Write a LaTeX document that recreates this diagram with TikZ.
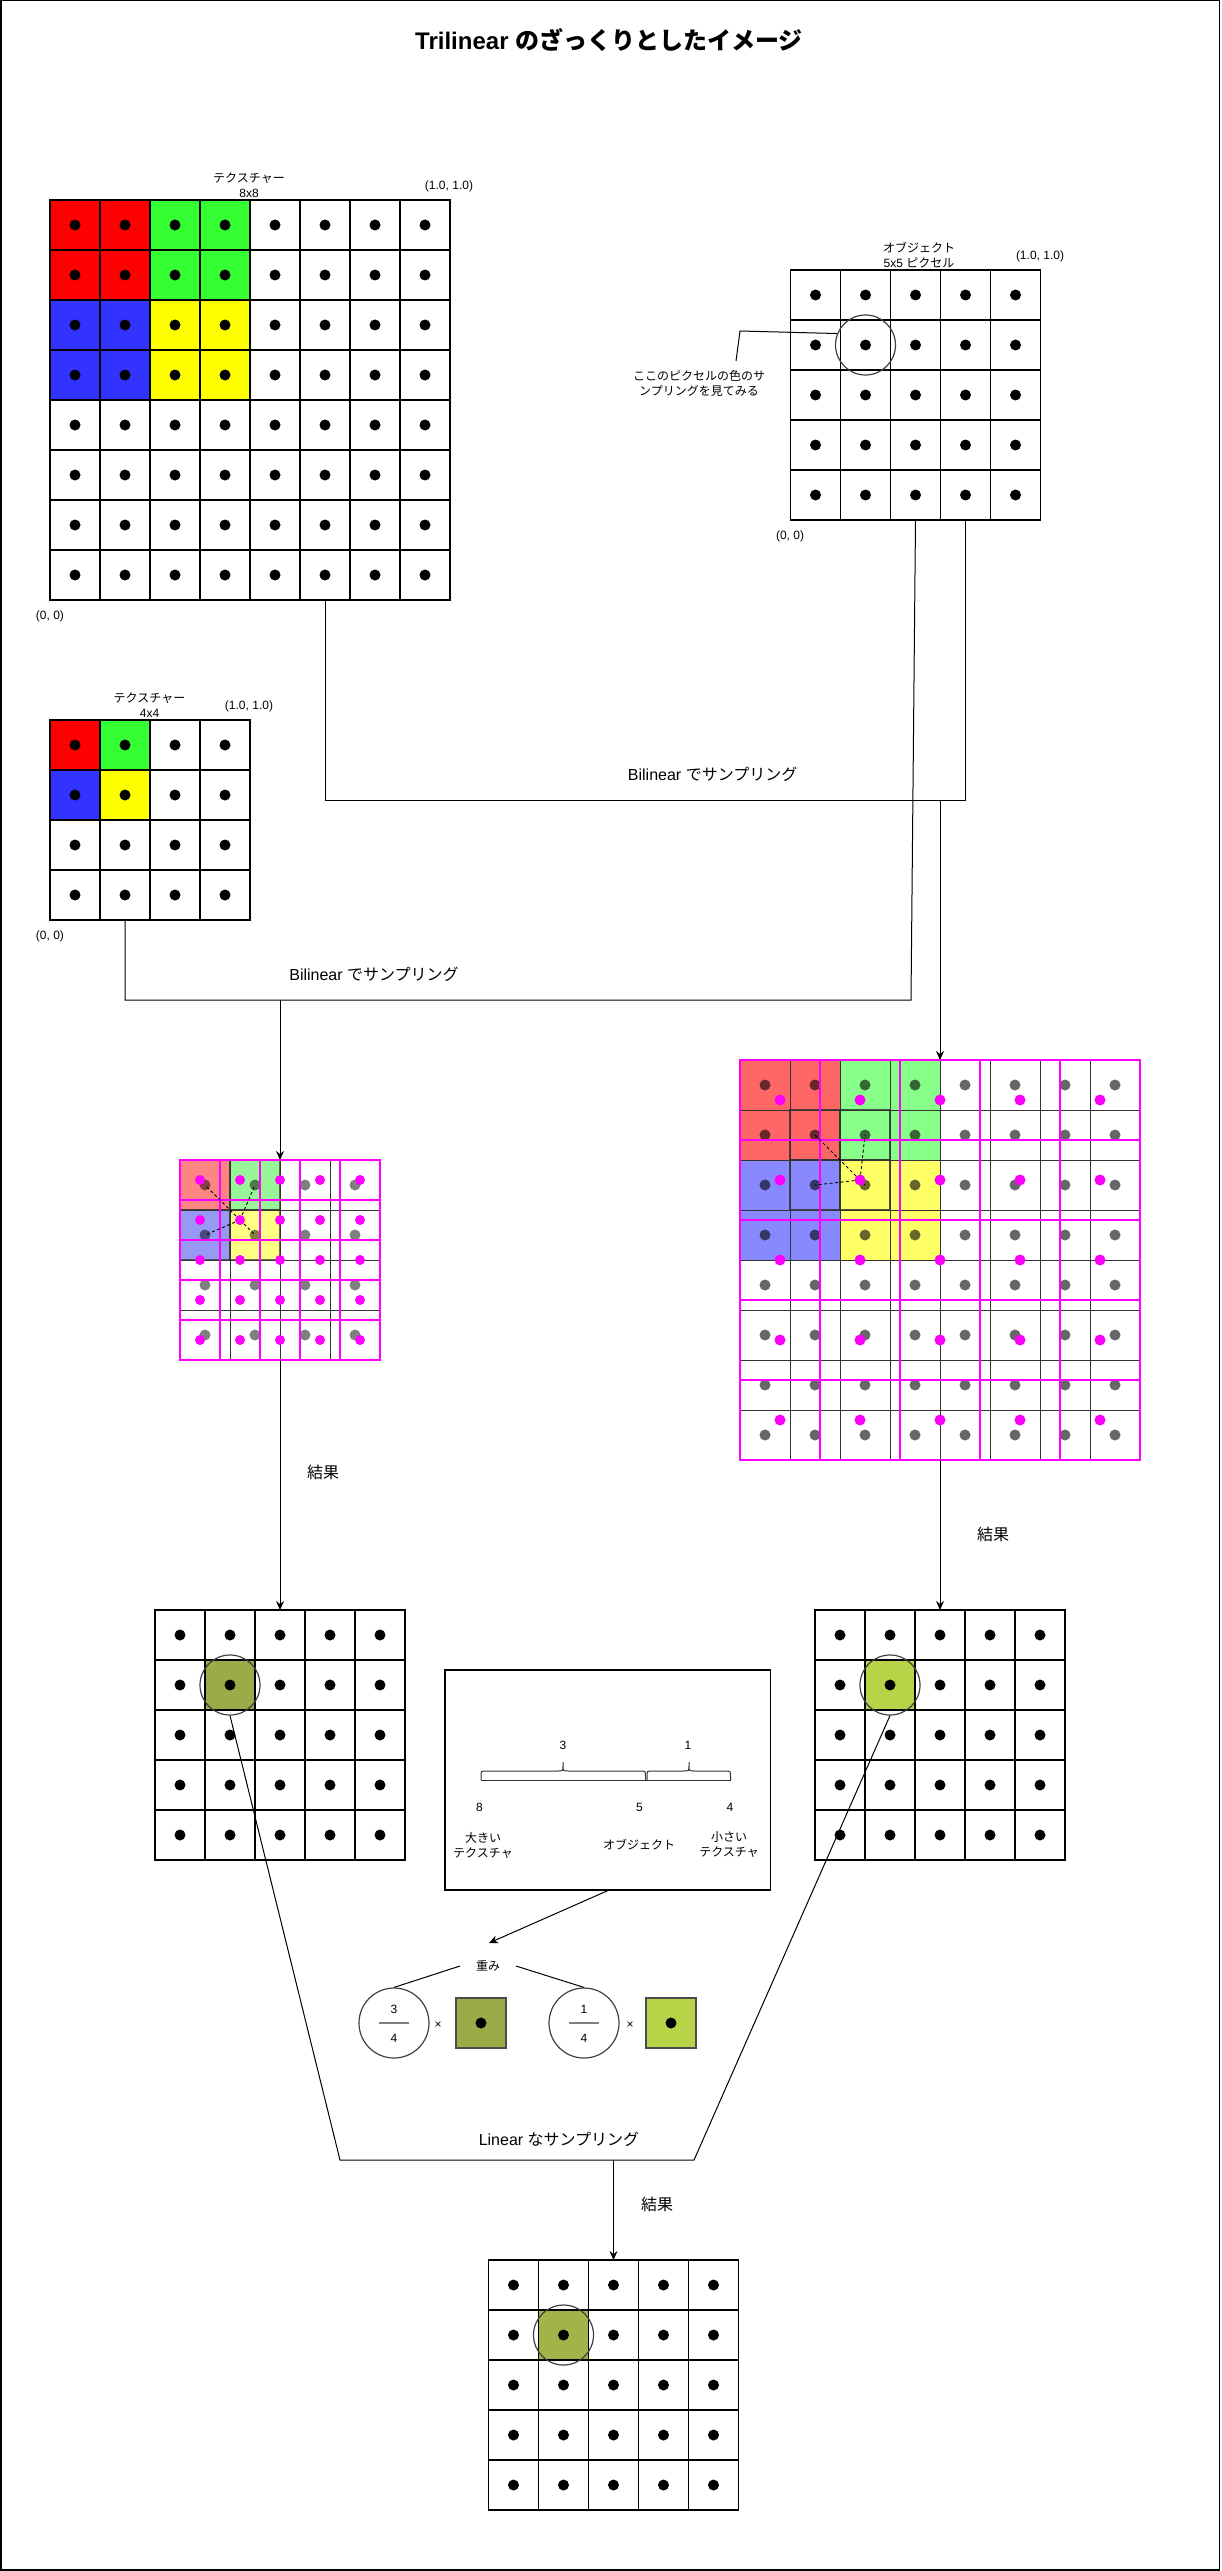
\documentclass[tikz,border=0pt]{standalone}
\usepackage{fontspec}
\setmainfont{Liberation Sans}
\newfontfamily\jp{Noto Sans CJK JP}
\usetikzlibrary{arrows.meta,calc}
\definecolor{tred}{HTML}{FF0000}
\definecolor{tgreen}{HTML}{33FF33}
\definecolor{tblue}{HTML}{3333FF}
\definecolor{tyellow}{HTML}{FFFF00}
\definecolor{bred}{HTML}{FF6666}
\definecolor{bgreen}{HTML}{88FF88}
\definecolor{bblue}{HTML}{8888FF}
\definecolor{byellow}{HTML}{FFFF66}
\definecolor{sred}{HTML}{FF8484}
\definecolor{sgreen}{HTML}{98F598}
\definecolor{sblue}{HTML}{9898F5}
\definecolor{syellow}{HTML}{FFFF84}
\definecolor{mg}{HTML}{FF00FF}
\definecolor{oliveA}{HTML}{9BAB48}
\definecolor{oliveB}{HTML}{B7D348}
\definecolor{oliveC}{HTML}{A0B44A}
\newcommand{\dotgrid}[4]{%
  \foreach \i in {1,...,#3}{\foreach \j in {1,...,#3}{%
    \draw[gl] ({#1+(\i-1)*#4},{#2+(\j-1)*#4}) rectangle +(#4,#4);
    \fill ({#1+(\i-0.5)*#4},{#2+(\j-0.5)*#4}) circle[radius=5.5pt];
  }}}
\tikzset{
  gl/.style={draw=black,line width=1.2pt},
  tl/.style={draw=black!80,line width=0.9pt},
  gbox/.style={draw=none,inner sep=0pt,outer sep=0pt},
  lbl/.style={font=\fontsize{12}{15}\selectfont,align=center,inner sep=0pt},
  biglbl/.style={font=\fontsize{16}{19}\selectfont,inner sep=0pt},
  conn/.style={draw=black,line width=1pt},
  arr/.style={conn,-{Stealth[length=9pt,width=8pt,inset=3pt]}},
  mag/.style={draw=mg,line width=2.5pt},
  smag/.style={draw=mg,line width=2pt},
  darkbox/.style={draw=black!80,line width=2.2pt,opacity=0.85},
  dsh/.style={draw=black,line width=0.9pt,dash pattern=on 3pt off 2.5pt},
  ring/.style={circle,draw=black!75,line width=1.2pt,minimum size=60pt,inner sep=0pt},
  frac/.style={circle,draw=black!75,line width=1.2pt,minimum size=70pt,inner sep=0pt},
  sq/.style={draw=black!70,line width=1.5pt,minimum size=50pt,inner sep=0pt},
  brc/.style={draw=black!80,line width=1pt},
}
\begin{document}
\begin{tikzpicture}[x=1pt,y=-1pt]
\useasboundingbox (0,0) rectangle (1221,2571);
\draw[line width=1.5pt] (0.75,0.75) rectangle (1219.5,2570);

\node[font=\bfseries\fontsize{24}{28}\selectfont,inner sep=0pt] (title) at (609,40) {Trilinear {\jp のざっくりとしたイメージ}};

% ---------- 8x8 texture ----------
\fill[tred] (50,200) rectangle (150,300);
\fill[tgreen] (150,200) rectangle (250,300);
\fill[tblue] (50,300) rectangle (150,400);
\fill[tyellow] (150,300) rectangle (250,400);
\dotgrid{50}{200}{8}{50}
\node[gbox,minimum size=400pt] (tex8) at (250,400) {};
\node[lbl] (tex8t) at (249,185.5) {{\jp テクスチャー}\\8x8};
\node[lbl] (tex8a) at (449,186) {(1.0, 1.0)};
\node[lbl] (tex8b) at (50,616.5) {(0, 0)};

% ---------- object 5x5 ----------
\dotgrid{790.5}{270}{5}{50}
\node[gbox,minimum size=250pt] (obj) at (915.5,395) {};
\node[ring] (pick) at (865.5,345) {};
\node[lbl] (objt) at (919,255) {{\jp オブジェクト}\\5x5 {\jp ピクセル}};
\node[lbl] (obja) at (1040,256) {(1.0, 1.0)};
\node[lbl] (objb) at (790,536.5) {(0, 0)};
\node[lbl] (callt) at (699,383) {\jp ここのピクセルの色のサ\\\jp ンプリングを見てみる};
\coordinate (callk) at (740,331);
\coordinate (calle) at (736,361);
\draw[conn] (pick.158) -- (callk) -- (calle);

% ---------- 4x4 texture ----------
\fill[tred] (50,720) rectangle (100,770);
\fill[tgreen] (100,720) rectangle (150,770);
\fill[tblue] (50,770) rectangle (100,820);
\fill[tyellow] (100,770) rectangle (150,820);
\dotgrid{50}{720}{4}{50}
\node[gbox,minimum size=200pt] (tex4) at (150,820) {};
\node[lbl] (tex4t) at (149.5,705) {{\jp テクスチャー}\\4x4};
\node[lbl] (tex4a) at (249,706) {(1.0, 1.0)};
\node[lbl] (tex4b) at (50,936) {(0, 0)};

% ---------- big magenta grid (8x8 on 5x5) ----------
\fill[bred] (740,1060) rectangle (840,1160);
\fill[bgreen] (840,1060) rectangle (940,1160);
\fill[bblue] (740,1160) rectangle (840,1260);
\fill[byellow] (840,1160) rectangle (940,1260);
\foreach \i in {0,...,7}{\foreach \j in {0,...,7}{
  \draw[tl] ({740+50*\i},{1060+50*\j}) rectangle +(50,50);
  \fill[black,opacity=0.6] ({765+50*\i},{1085+50*\j}) circle[radius=5.5pt];
}}
\foreach \i/\j in {0/0,1/0,0/1,1/1}{\draw[darkbox] ({790+50*\i},{1110+50*\j}) rectangle +(50,50);}
\foreach \i in {0,...,4}{\foreach \j in {0,...,4}{\draw[mag] ({740+80*\i},{1060+80*\j}) rectangle +(80,80);}}
\foreach \p in {(815,1135),(865,1135),(815,1185),(865,1185)}{\draw[dsh] (860,1180) -- \p;}
\foreach \i in {0,...,4}{\foreach \j in {0,...,4}{\fill[mg] ({780+80*\i},{1100+80*\j}) circle[radius=5.5pt];}}
\node[gbox,minimum size=400pt] (bigm) at (940,1260) {};

% ---------- small magenta grid (4x4 on 5x5) ----------
\fill[sred] (180,1160) rectangle (230,1210);
\fill[sgreen] (230,1160) rectangle (280,1210);
\fill[sblue] (180,1210) rectangle (230,1260);
\fill[syellow] (230,1210) rectangle (280,1260);
\foreach \i in {0,...,3}{\foreach \j in {0,...,3}{
  \draw[tl] ({180+50*\i},{1160+50*\j}) rectangle +(50,50);
  \fill[black,opacity=0.5] ({205+50*\i},{1185+50*\j}) circle[radius=5.5pt];
}}
\foreach \i/\j in {0/0,1/0,0/1,1/1}{\draw[darkbox,line width=1.8pt,opacity=0.7] ({180+50*\i},{1160+50*\j}) rectangle +(50,50);}
\foreach \i in {0,...,4}{\foreach \j in {0,...,4}{\draw[smag] ({180+40*\i},{1160+40*\j}) rectangle +(40,40);}}
\foreach \p in {(205,1185),(255,1185),(205,1235),(255,1235)}{\draw[dsh] (240,1220) -- \p;}
\foreach \i in {0,...,4}{\foreach \j in {0,...,4}{\fill[mg] ({200+40*\i},{1180+40*\j}) circle[radius=5pt];}}
\node[gbox,minimum size=200pt] (smallm) at (280,1260) {};

% ---------- connectors: bilinear sampling ----------
\coordinate (a1) at ($(tex8.south)+(75,0)$);
\coordinate (a1d) at (325,800);
\coordinate (b1d) at (965.5,800);
\coordinate (b1) at ($(obj.south)+(50,0)$);
\draw[conn] (a1) -- (a1d) -- (b1d) -- (b1);
\coordinate (s1) at (940,800);
\draw[arr] (s1) -- (bigm.north);
\node[biglbl] (bl1) at (712.6,774) {Bilinear {\jp でサンプリング}};

\coordinate (a2) at ($(tex4.south)+(-25,0)$);
\coordinate (a2d) at (125,1000);
\coordinate (b2d) at (911,1000);
\coordinate (b2) at (obj.south);
\draw[conn] (a2) -- (a2d) -- (b2d) -- (b2);
\coordinate (s2) at (280,1000);
\draw[arr] (s2) -- (smallm.north);
\node[biglbl] (bl2) at (374,974) {Bilinear {\jp でサンプリング}};

% ---------- result grids ----------
\fill[oliveA] (205,1660) rectangle (255,1710);
\dotgrid{155}{1610}{5}{50}
\node[gbox,minimum size=250pt] (resL) at (280,1735) {};
\node[ring] (cL) at (230,1685) {};

\fill[oliveB] (865,1660) rectangle (915,1710);
\dotgrid{815}{1610}{5}{50}
\node[gbox,minimum size=250pt] (resR) at (940,1735) {};
\node[ring] (cR) at (890,1685) {};

\draw[arr] (smallm.south) -- (resL.north);
\draw[arr] (bigm.south) -- (resR.north);
\node[biglbl] (r1) at (323,1472) {\jp 結果};
\node[biglbl] (r2) at (993,1534) {\jp 結果};

% ---------- weight box ----------
\node[draw,line width=1.2pt,minimum width=325.5pt,minimum height=220pt,inner sep=0pt] (wbox) at (607.75,1780) {};
\draw[brc] (481,1780) -- (730.5,1780);
\draw[brc] (481,1780) -- (481,1776) .. controls (481,1771) .. (486,1771) -- (557,1771) .. controls (563,1771) .. (563,1766) -- (563,1762) -- (563,1766) .. controls (563,1771) .. (569,1771) -- (640,1771) .. controls (645.5,1771) .. (645.5,1776) -- (645.5,1780);
\draw[brc] (647,1780) -- (647,1776) .. controls (647,1771) .. (652,1771) -- (683,1771) .. controls (689,1771) .. (689,1766) -- (689,1762) -- (689,1766) .. controls (689,1771) .. (695,1771) -- (725.5,1771) .. controls (730.5,1771) .. (730.5,1776) -- (730.5,1780);
\node[lbl] (n3) at (563,1745) {3};
\node[lbl] (n1) at (688,1745) {1};
\node[lbl] (n8) at (479.5,1807) {8};
\node[lbl] (n5) at (639.5,1807) {5};
\node[lbl] (n4) at (730,1807) {4};
\node[lbl] (bigt) at (483,1845) {\jp 大きい\\\jp テクスチャ};
\node[lbl] (objl) at (639,1845) {\jp オブジェクト};
\node[lbl] (smlt) at (729,1845) {\jp 小さい\\\jp テクスチャ};

\coordinate (wt) at (489,1943);
\draw[arr] (wbox.south) -- (wt);
\node[lbl] (wt2) at (488,1966) {\jp 重み};

\node[frac] (fL) at (394,2023) {};
\node[frac] (fR) at (584,2023) {};
\draw[conn] (460,1966) -- (fL.north);
\draw[conn] (516,1966) -- (fR.north);
\draw[draw=black!50,line width=2pt] (379,2022.7) -- (409,2022.7);
\draw[draw=black!50,line width=2pt] (569,2022.7) -- (599,2022.7);
\node[lbl] (fL3) at (394,2009) {3};
\node[lbl] (fL4) at (394,2038) {4};
\node[lbl] (fR1) at (584,2009) {1};
\node[lbl] (fR4) at (584,2038) {4};
\node[lbl] (xL) at (438,2025) {×};
\node[lbl] (xR) at (630,2025) {×};
\node[sq,fill=oliveA] (qL) at (481,2023) {};
\fill (qL.center) circle[radius=5.5pt];
\node[sq,fill=oliveB] (qR) at (671,2023) {};
\fill (qR.center) circle[radius=5.5pt];

% ---------- linear sampling ----------
\coordinate (tL) at (340,2160);
\coordinate (tR) at (694,2160);
\draw[conn] (cL.south) -- (tL) -- (tR) -- (cR.south);
\node[biglbl] (lin) at (559,2139) {Linear {\jp なサンプリング}};
\coordinate (s3) at (613.5,2160);

\fill[oliveC] (538.5,2310) rectangle (588.5,2360);
\dotgrid{488.5}{2260}{5}{50}
\node[gbox,minimum size=250pt] (fin) at (613.5,2385) {};
\node[ring] (cF) at (563.5,2335) {};
\draw[arr] (s3) -- (fin.north);
\node[biglbl] (r3) at (657,2204) {\jp 結果};
\end{tikzpicture}
\end{document}
